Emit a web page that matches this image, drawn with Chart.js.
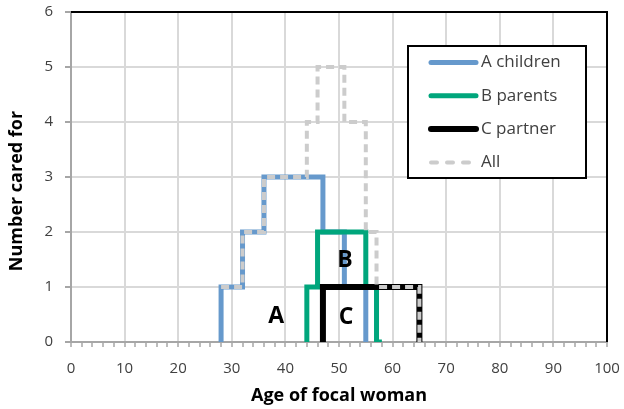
<!DOCTYPE html>
<html>
<head>
<meta charset="utf-8">
<script src="https://cdn.jsdelivr.net/npm/chart.js@4.4.1/dist/chart.umd.min.js"></script>
<style>
    html, body { margin: 0; padding: 0; background: #fff; }
    #wrap { width: 624px; height: 409px; }
</style>
</head>
<body>
<div id="wrap"><canvas id="careChart" width="624" height="409"></canvas></div>
<script>
// Step points: the age where the count changes and the new count from there on
const childrenAges = [28, 28, 32, 36, 47, 51, 55];
const childrenCounts = [0, 1, 2, 3, 2, 1, 0];
const parentsAges = [44, 44, 46, 55, 57, 58];
const parentsCounts = [0, 1, 2, 1, 0, 0];
const partnerAges = [47, 47, 65];
const partnerCounts = [0, 1, 0];
const allAges = [28, 32, 36, 44, 46, 51, 55, 57, 65];
const allCounts = [1, 2, 3, 4, 5, 4, 2, 1, 0];

const seriesNames = ['A children', 'B parents', 'C partner', 'All'];
const regionLetters = ['A', 'B', 'C'];

const FONT = "'Open Sans', Lato, sans-serif";
const TEXT = '#404040';

function toPoints(ages, counts) {
    return ages.map((age, i) => ({ x: age, y: counts[i] }));
}

// Black frame on top and right of the plot
const frameBorder = {
    id: 'frameBorder',
    beforeDatasetsDraw(chart) {
        const { ctx, chartArea: a } = chart;
        ctx.save();
        ctx.strokeStyle = '#000';
        ctx.lineWidth = 2;
        ctx.beginPath();
        ctx.moveTo(a.left, a.top);
        ctx.lineTo(a.right, a.top);
        ctx.lineTo(a.right, a.bottom);
        ctx.stroke();
        ctx.restore();
    }
};

// Y title sits a bit below the middle of the plot in the original
const yTitle = {
    id: 'yTitle',
    afterDraw(chart) {
        const ctx = chart.ctx;
        ctx.save();
        ctx.translate(17, 191);
        ctx.rotate(-Math.PI / 2);
        ctx.fillStyle = '#000';
        ctx.font = 'bold 18px ' + FONT;
        ctx.textAlign = 'center';
        ctx.textBaseline = 'middle';
        ctx.fillText('Number cared for', 0, 0);
        ctx.restore();
    }
};

// Big A / B / C letters inside the steps
const regionText = {
    id: 'regionText',
    afterDatasetsDraw(chart) {
        const { ctx, scales } = chart;
        const spots = [[38.3, 0.47], [51.1, 1.48], [51.3, 0.44]];
        ctx.save();
        ctx.fillStyle = '#000';
        ctx.font = 'bold 23px ' + FONT;
        ctx.textAlign = 'center';
        ctx.textBaseline = 'middle';
        regionLetters.forEach((letter, i) => {
            ctx.fillText(letter, scales.x.getPixelForValue(spots[i][0]), scales.y.getPixelForValue(spots[i][1]));
        });
        ctx.restore();
    }
};

// Boxed legend in the upper right of the plot
const boxLegend = {
    id: 'boxLegend',
    afterDraw(chart) {
        const ctx = chart.ctx;
        ctx.save();
        ctx.fillStyle = '#fff';
        ctx.fillRect(408, 46, 178, 132);
        ctx.strokeStyle = '#000';
        ctx.lineWidth = 2;
        ctx.strokeRect(408, 46, 178, 132);
        seriesNames.forEach((name, i) => {
            const ds = chart.data.datasets.find(d => d.label === name);
            const y = 62.5 + i * 33.3;
            ctx.beginPath();
            ctx.strokeStyle = ds.borderColor;
            ctx.lineWidth = ds.borderWidth;
            ctx.lineCap = 'round';
            ctx.setLineDash(ds.borderDash ? [6, 10] : []);
            ctx.moveTo(431, y);
            ctx.lineTo(476, y);
            ctx.stroke();
            ctx.setLineDash([]);
            ctx.fillStyle = TEXT;
            ctx.font = '17px ' + FONT;
            ctx.textAlign = 'left';
            ctx.textBaseline = 'middle';
            ctx.fillText(name, 481, y);
        });
        ctx.restore();
    }
};

function stepLine(label, ages, counts, color, width, order, dash) {
    return {
        label: label,
        data: toPoints(ages, counts),
        borderColor: color,
        backgroundColor: color,
        borderWidth: width,
        borderDash: dash,
        stepped: 'before',
        pointRadius: 0,
        fill: false,
        borderJoinStyle: 'miter',
        borderCapStyle: 'butt',
        order: order
    };
}

new Chart(document.getElementById('careChart').getContext('2d'), {
    type: 'line',
    data: {
        datasets: [
            stepLine(seriesNames[0], childrenAges, childrenCounts, '#6699cc', 5, 3),
            stepLine(seriesNames[1], parentsAges, parentsCounts, '#00a67c', 5, 2),
            stepLine(seriesNames[2], partnerAges, partnerCounts, '#000000', 6, 1),
            stepLine(seriesNames[3], allAges, allCounts, '#cccccc', 4, 0, [8, 5])
        ]
    },
    options: {
        responsive: false,
        animation: false,
        devicePixelRatio: 1,
        layout: { padding: { top: 12, right: 17, left: 0, bottom: 0 } },
        plugins: {
            legend: { display: false },
            tooltip: { enabled: false }
        },
        scales: {
            x: {
                type: 'linear',
                min: 0,
                max: 100,
                ticks: {
                    stepSize: 2,
                    autoSkip: false,
                    maxRotation: 0,
                    padding: 13,
                    color: TEXT,
                    font: { family: FONT, size: 15 },
                    callback: v => (v % 10 === 0 ? v : '')
                },
                grid: {
                    color: c => (c.tick && c.tick.value % 10 === 0 ? '#d9d9d9' : 'rgba(0,0,0,0)'),
                    lineWidth: 2,
                    tickColor: '#a6a6a6',
                    tickLength: 5,
                    tickWidth: 1.5
                },
                border: { color: '#a6a6a6', width: 2 },
                title: {
                    display: true,
                    text: 'Age of focal woman',
                    color: '#000',
                    font: { family: FONT, size: 18, weight: 'bold' },
                    padding: { top: 0, bottom: 2 }
                },
                afterFit: s => {
                    s.height = 67;
                    s.paddingLeft = 0;
                    s.paddingRight = 0;
                }
            },
            y: {
                min: 0,
                max: 6,
                ticks: {
                    stepSize: 1,
                    padding: 12,
                    color: TEXT,
                    font: { family: FONT, size: 15 }
                },
                grid: {
                    color: '#d9d9d9',
                    lineWidth: 2,
                    tickColor: '#a6a6a6',
                    tickLength: 6,
                    tickWidth: 2
                },
                border: { color: '#a6a6a6', width: 2 },
                title: { display: false },
                afterFit: s => {
                    s.width = 71;
                    s.paddingTop = 0;
                    s.paddingBottom = 0;
                }
            }
        }
    },
    plugins: [frameBorder, regionText, yTitle, boxLegend]
});
</script>
</body>
</html>
